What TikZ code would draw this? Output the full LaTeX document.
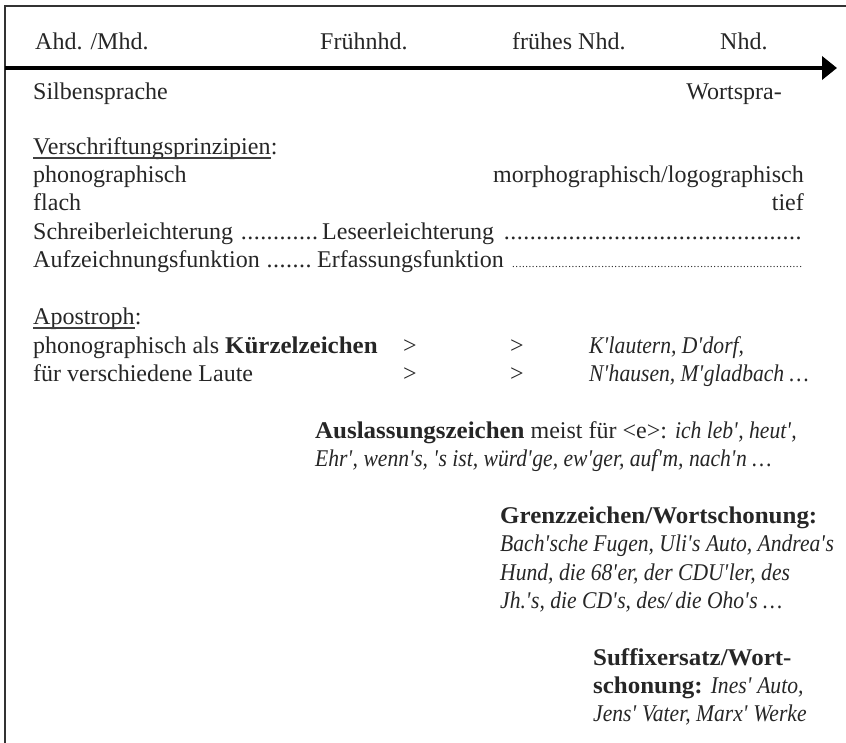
\documentclass[tikz,border=0pt]{standalone}
\usepackage{fontspec}
\setmainfont{Liberation Serif}[
  BoldFeatures={FakeStretch=1.04},
  ItalicFeatures={FakeStretch=0.9}]
\usetikzlibrary{calc,arrows.meta}

\newcommand{\ap}{\textquotesingle}
\newcommand{\dotrun}{\leaders\hbox to 0.27em{\hss.\hss}\hfill}
\newcommand{\finedots}{{\fontsize{11}{11}\selectfont\leaders\hbox to 0.3em{\hss.\hss}\hfill}}

\begin{document}
\begin{tikzpicture}[x=1pt,y=1pt,yscale=-1,
  txt/.style = {inner sep=0pt, anchor=base west, text=black!85,
  font=\fontsize{24}{28.3}\selectfont},
  rtxt/.style = {txt, anchor=base east},
  frame/.style = {line width=1.6pt, black!80},
  uline/.style = {line width=1.2pt, black!75},
  timeline/.style = {line width=4pt, black, -{Triangle[length=15pt,width=23pt]}}
  ]

  \useasboundingbox (0,0) rectangle (846,743);

  % frame and time line
  \coordinate (ftop) at (846,6);
  \coordinate (fcorner) at (5,6);
  \coordinate (fbottom) at (5,743);
  \draw[frame] (ftop) -- (fcorner) -- (fbottom);

  \coordinate (t0) at (5,68);
  \coordinate (t1) at (837,68);
  \draw[timeline] (t0) -- (t1);

  % periods
  \node[txt] (ahd) at (35,50) {Ahd. /Mhd.};
  \node[txt] (fnhd) at (320,50) {Frühnhd.};
  \node[txt] (frnhd) at (512,50) {frühes Nhd.};
  \node[txt] (nhd) at (720,50) {Nhd.};

  \node[txt] (silben) at (33,100) {Silbensprache};
  \node[rtxt] (wort) at (782,100) {Wortspra-};

  % Verschriftungsprinzipien
  \node[txt] (vers) at (33,155) {Verschriftungsprinzipien};
  \node[txt] (verscolon) at (vers.base east) {:};
  \draw[uline] ($(vers.base west)+(0,3)$) -- ($(vers.base east)+(0,3)$);

  \node[txt] (phono) at (33,183) {phonographisch};
  \node[rtxt] (morpho) at (804,183) {morphographisch/logographisch};
  \node[txt] (flach) at (33,211) {flach};
  \node[rtxt] (tief) at (804,211) {tief};
  \node[txt] (schreib) at (33,240) {\hbox to 287pt{Schreiberleichterung\ \dotrun}};
  \node[txt] (lese) at (322,240) {\hbox to 482pt{Leseerleichterung\ \dotrun}};
  \node[txt] (aufz) at (33,268) {\hbox to 279pt{Aufzeichnungsfunktion\ \dotrun}};
  \node[txt] (erf) at (317,268) {\hbox to 487pt{Erfassungsfunktion\ \finedots}};

  % Apostroph
  \node[txt] (apo) at (33,325) {Apostroph};
  \node[txt] (apocolon) at (apo.base east) {:};
  \draw[uline] ($(apo.base west)+(0,3)$) -- ($(apo.base east)+(0,3)$);

  \node[txt] (kuerzel) at (33,353) {phonographisch als \textbf{Kürzelzeichen}};
  \node[txt] (gt1) at (403,353) {>};
  \node[txt] (gt2) at (510,353) {>};
  \node[txt] (klautern) at (589,353) {\textit{K\ap lautern, D\ap dorf,}};
  \node[txt] (laute) at (33,381) {für verschiedene Laute};
  \node[txt] (gt3) at (403,381) {>};
  \node[txt] (gt4) at (510,381) {>};
  \node[txt] (nhausen) at (589,381) {\textit{N\ap hausen, M\ap gladbach …}};

  % Auslassungszeichen
  \node[txt] (ausl) at (315,438) {\textbf{Auslassungszeichen} meist für <e>: \textit{ich leb\ap, heut\ap,}};
  \node[txt] (ausl2) at (315,466) {\textit{Ehr\ap, wenn\ap s, \ap s ist, würd\ap ge, ew\ap ger, auf\ap m, nach\ap n …}};

  % Grenzzeichen
  \node[txt] (grenz) at (500,523) {\textbf{Grenzzeichen/Wortschonung:}};
  \node[txt] (grenz2) at (500,551) {\textit{Bach\ap sche Fugen, Uli\ap s Auto, Andrea\ap s}};
  \node[txt] (grenz3) at (500,580) {\textit{Hund, die 68\ap er, der CDU\ap ler, des}};
  \node[txt] (grenz4) at (500,608) {\textit{Jh.\ap s, die CD\ap s, des/\,die Oho\ap s …}};

  % Suffixersatz
  \node[txt] (suffix) at (593,665) {\textbf{Suffixersatz/Wort-}};
  \node[txt] (suffix2) at (593,693) {\textbf{schonung:} \textit{Ines\ap{} Auto,}};
  \node[txt] (suffix3) at (593,721) {\textit{Jens\ap{} Vater, Marx\ap{} Werke}};

\end{tikzpicture}
\end{document}
